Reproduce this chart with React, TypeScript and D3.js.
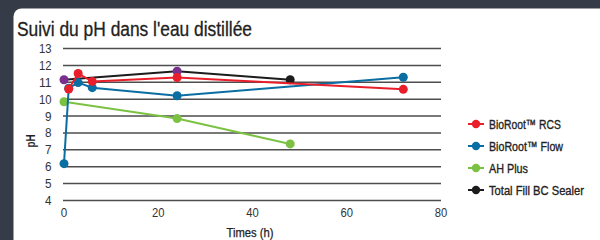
import React from "react";
import * as d3 from "d3";

const title = "Suivi du pH dans l'eau distillée";
const xTicks = [0, 20, 40, 60, 80];
const yTicks = [4, 5, 6, 7, 8, 9, 10, 11, 12, 13];

const rcsTimes = [1, 3, 6, 24, 72];
const rcsValues = [10.6, 11.52, 11.05, 11.28, 10.58];
const flowTimes = [0, 1, 3, 6, 24, 72];
const flowValues = [6.18, 10.65, 10.98, 10.68, 10.2, 11.3];
const ahTimes = [0, 24, 48];
const ahValues = [9.85, 8.85, 7.35];
const tfTimes = [0, 24, 48];
const tfValues = [11.15, 11.65, 11.15];

const seriesNames = ["BioRoot™ RCS", "BioRoot™ Flow", "AH Plus", "Total Fill BC Sealer"];
const legendWidths = [72, 74, 39, 95];
const colors = ["#e81f2a", "#0b6ea3", "#7cc242", "#1c1c1c"];
const pointColorOverrides: Record<string, string> = { "3-0": "#7a2f8e", "3-1": "#7a2f8e" };

const FONT = "'Liberation Sans', Arial, sans-serif";
const SX = 0.8;

export default function App() {
  const W = 600, H = 240;
  const x = d3.scaleLinear().domain([0, 80]).range([64, 441]);
  const y = d3.scaleLinear().domain([4, 13]).range([200.5, 48.5]);
  const series = [
    { t: rcsTimes, v: rcsValues },
    { t: flowTimes, v: flowValues },
    { t: ahTimes, v: ahValues },
    { t: tfTimes, v: tfValues },
  ];
  const line = d3.line<[number, number]>().x((d) => x(d[0])).y((d) => y(d[1]));
  const drawOrder = [2, 3, 1, 0];
  return (
    <svg width={W} height={H} style={{ position: "absolute", left: 0, top: 0 }}>
      <rect x={0} y={0} width={W} height={H} fill="#363b48" />
      <rect x={13.5} y={8.5} width={600} height={260} rx={8} fill="#ffffff" />
      <text transform={`translate(17,35.5) scale(${SX},1)`} fontFamily={FONT} fontSize={20} fill="#222" stroke="#222" strokeWidth={0.3} textLength={235 / SX} lengthAdjust="spacingAndGlyphs">
        {title}
      </text>
      {yTicks.map((t) => (
        <g key={t}>
          <line x1={63} x2={441} y1={y(t)} y2={y(t)} stroke="#4d4d4d" strokeWidth={1.5} />
          <text x={51.5} y={y(t) + 4.5} textAnchor="end" fontFamily={FONT} fontSize={12.5} fill="#333" textLength={t >= 10 ? 12.5 : 6.5} lengthAdjust="spacingAndGlyphs">
            {t}
          </text>
        </g>
      ))}
      {xTicks.map((t) => (
        <text key={t} x={x(t)} y={217} textAnchor="middle" fontFamily={FONT} fontSize={12.5} fill="#333" textLength={t >= 10 ? 12.5 : 6.5} lengthAdjust="spacingAndGlyphs">
          {t}
        </text>
      ))}
      <text x={250} y={237} textAnchor="middle" fontFamily={FONT} fontSize={12} fill="#222" stroke="#222" strokeWidth={0.25} textLength={47} lengthAdjust="spacingAndGlyphs">
        Times (h)
      </text>
      <text transform="translate(35,141) rotate(-90)" textAnchor="middle" fontFamily={FONT} fontSize={12} fontWeight="bold" fill="#222" textLength={13} lengthAdjust="spacingAndGlyphs">
        pH
      </text>
      {drawOrder.map((i) => {
        const s = series[i];
        const pts = s.t.map((tt, j) => [tt, s.v[j]] as [number, number]);
        return (
          <g key={i}>
            <path d={line(pts) || ""} fill="none" stroke={colors[i]} strokeWidth={2} />
            {pts.map((p, j) => (
              <circle key={j} cx={x(p[0])} cy={y(p[1])} r={4.5} fill={pointColorOverrides[`${i}-${j}`] || colors[i]} />
            ))}
          </g>
        );
      })}
      {seriesNames.map((n, i) => {
        const ly = 124 + i * 22;
        return (
          <g key={n}>
            <line x1={468} x2={484} y1={ly} y2={ly} stroke={colors[i]} strokeWidth={2} />
            <circle cx={476} cy={ly} r={4.2} fill={colors[i]} />
            <text transform={`translate(489,${ly + 5}) scale(${SX},1)`} fontFamily={FONT} fontSize={13.5} fill="#222" stroke="#222" strokeWidth={0.35} textLength={legendWidths[i] / SX} lengthAdjust="spacingAndGlyphs">
              {n}
            </text>
          </g>
        );
      })}
    </svg>
  );
}
